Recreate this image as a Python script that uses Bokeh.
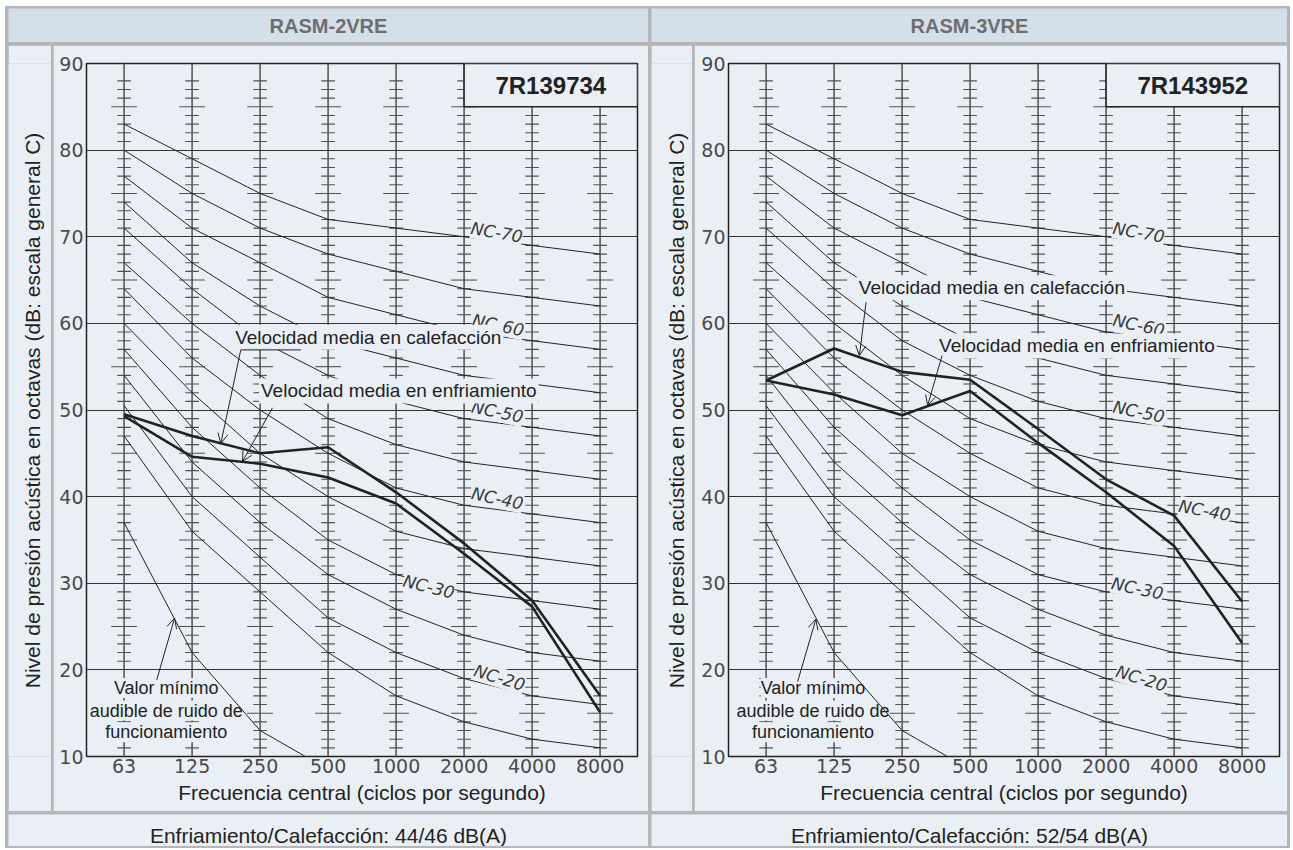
from bokeh.plotting import figure
from bokeh.models import Label, Arrow, OpenHead, FixedTicker
from bokeh.layouts import row, column
from bokeh.embed import file_html
from bokeh.resources import INLINE
from bokeh.core.properties import value

# ---------------- data ----------------
bands = ["63", "125", "250", "500", "1000", "2000", "4000", "8000"]
y_ticks = [10, 20, 30, 40, 50, 60, 70, 80, 90]

nc15 = [47, 36, 29, 22, 17, 14, 12, 11]
nc20 = [50.5, 40, 33, 26, 22, 19, 17, 16]
nc25 = [54, 44, 37, 31, 27, 24, 22, 21]
nc30 = [57, 48, 41, 35, 31, 29, 28, 27]
nc35 = [60, 52, 45, 40, 36, 34, 33, 32]
nc40 = [64, 56, 50, 45, 41, 39, 38, 37]
nc45 = [67, 60, 54, 49, 46, 44, 43, 42]
nc50 = [71, 64, 58, 54, 51, 49, 48, 47]
nc55 = [74, 67, 62, 58, 56, 54, 53, 52]
nc60 = [77, 71, 67, 63, 61, 59, 58, 57]
nc65 = [80, 75, 71, 68, 66, 64, 63, 62]
nc70 = [83, 79, 75, 72, 71, 70, 69, 68]
nc_curves = [nc15, nc20, nc25, nc30, nc35, nc40, nc45, nc50, nc55, nc60, nc65, nc70]

min_audible = [37, 22, 13, 8.5]          # 63 ... 500 Hz

heat_2vre = [49.5, 47.0, 45.0, 45.7, 40.5, 34.6, 28.0, 17.0]
cool_2vre = [49.3, 44.6, 43.8, 42.2, 39.2, 33.4, 27.3, 15.1]
heat_3vre = [53.4, 57.1, 54.4, 53.5, 47.8, 42.0, 37.8, 27.9]
cool_3vre = [53.4, 51.8, 49.4, 52.2, 46.2, 40.5, 34.3, 23.1]

models = ["RASM-2VRE", "RASM-3VRE"]
codes = ["7R139734", "7R143952"]
footers = ["Enfriamiento/Calefacción: 44/46 dB(A)",
           "Enfriamiento/Calefacción: 52/54 dB(A)"]
x_title = "Frecuencia central (ciclos por segundo)"
y_title = "Nivel de presión acústica en octavas (dB: escala general C)"
label_heat = "Velocidad media en calefacción"
label_cool = "Velocidad media en enfriamiento"
label_min = ["Valor mínimo", "audible de ruido de", "funcionamiento"]

# ---------------- styling / annotation layout ----------------
BG = "#eaeff5"
HEAD_BG = "#d5dfea"
RULE = "#b4b6b9"
INK = "#222222"
GRID_INK = "#505050"
BOX_FROM = 5          # reference box starts at the 2000 Hz line

ANN = [
    dict(nc=[("NC-70", 5.48, 70.5, -10), ("NC-60", 5.50, 59.8, -12), ("NC-50", 5.49, 49.8, -12),
             ("NC-40", 5.49, 39.8, -12), ("NC-30", 4.48, 29.6, -14), ("NC-20", 5.52, 19.1, -17)],
         heat_lab=(3.59, 58.4), cool_lab=(4.04, 52.2),
         heat_arrow=(1.716, 56.94, 1.422, 46.13), cool_arrow=(2.182, 50.25, 1.741, 44.06),
         landing=(1.716, 2.6, 56.94),
         min_x=0.62, min_arrow=(0.48, 18.85, 0.742, 25.96)),
    dict(nc=[("NC-70", 5.48, 70.5, -10), ("NC-60", 5.48, 59.8, -12), ("NC-50", 5.48, 49.8, -12),
             ("NC-40", 6.45, 38.4, -11), ("NC-30", 5.46, 29.4, -12), ("NC-20", 5.52, 19.0, -17)],
         heat_lab=(3.32, 64.1), cool_lab=(4.57, 57.4),
         heat_arrow=(1.47, 62.43, 1.372, 56.29), cool_arrow=(2.588, 56.29, 2.376, 50.52),
         landing=None,
         min_x=0.69, min_arrow=(0.464, 18.65, 0.732, 25.85)),
]

HEAD_H = 34
CONTENT_H = 766
FOOT_H = 32


def blank_fig(w, h, fill):
    p = figure(width=w, height=h, x_range=(0, w), y_range=(0, h), min_border=0,
               toolbar_location=None, output_backend="svg",
               x_axis_location=None, y_axis_location=None,
               background_fill_color=fill, border_fill_color=fill,
               outline_line_color=None)
    p.grid.visible = False
    return p


def header_fig(w, text):
    p = blank_fig(w, HEAD_H, HEAD_BG)
    p.add_layout(Label(x=w / 2, y=HEAD_H / 2, text=text, text_align="center",
                       text_baseline="middle", text_font="Liberation Sans",
                       text_font_style="bold", text_font_size="20px", text_color="#6e6e6e"))
    return p


def footer_fig(w, text):
    p = blank_fig(w, FOOT_H, BG)
    p.add_layout(Label(x=w / 2, y=11.5, text=text, text_align="center", text_baseline="middle",
                       text_font="Liberation Sans", text_font_size="21px", text_color=INK))
    return p


def ylab_fig(w, xc):
    p = blank_fig(w, CONTENT_H, BG)
    p.add_layout(Label(x=xc, y=382.5, text=y_title, angle=90, angle_units="deg",
                       text_align="center", text_baseline="middle",
                       text_font="Liberation Sans", text_font_size="21px", text_color=INK))
    return p


def main_fig(w, mbl, mbr, heat, cool, code, ann):
    n = len(bands)
    idx = list(range(n))
    p = figure(width=w, height=CONTENT_H, x_range=(-0.553, 7.55), y_range=(10, 90),
               min_border_left=mbl, min_border_right=mbr, min_border_top=18, min_border_bottom=55,
               toolbar_location=None, output_backend="svg",
               background_fill_color=BG, border_fill_color=BG,
               outline_line_color=INK, outline_line_width=1.5)
    p.xaxis.ticker = FixedTicker(ticks=idx)
    p.xaxis.major_label_overrides = {i: b for i, b in enumerate(bands)}
    p.yaxis.ticker = FixedTicker(ticks=y_ticks)
    for ax in (p.xaxis, p.yaxis):
        ax.axis_line_color = None
        ax.major_tick_line_color = None
        ax.minor_tick_line_color = None
        ax.major_tick_out = 0
        ax.major_tick_in = 0
        ax.major_label_text_font = "DejaVu Sans"
        ax.major_label_text_font_size = "19px"
        ax.major_label_text_color = "#4a4a4a"
        ax.major_label_standoff = 3
    p.xaxis.major_label_standoff = 2
    p.xaxis.axis_label = x_title
    p.xaxis.axis_label_text_font = "Liberation Sans"
    p.xaxis.axis_label_text_font_size = "21px"
    p.xaxis.axis_label_text_font_style = "normal"
    p.xaxis.axis_label_text_color = INK
    p.xaxis.axis_label_standoff = 5

    p.xgrid.visible = False
    p.ygrid.ticker = FixedTicker(ticks=y_ticks[1:-1])
    p.ygrid.grid_line_color = "#333333"
    p.ygrid.grid_line_width = 1

    # octave band rulers with 1 dB ticks
    y_lo, y_hi = y_ticks[0], y_ticks[-1]
    box_bottom = y_hi - 5
    tops = [y_hi if i <= BOX_FROM else box_bottom for i in idx]
    p.segment(x0=idx, y0=[y_lo] * n, x1=idx, y1=tops, line_color=GRID_INK, line_width=1.5)
    tx0, tx1, ty = [], [], []
    for i in idx:
        for k in range(y_lo + 1, y_hi - 1):
            if k % 10 == 0 or k >= tops[i]:
                continue
            h = 0.19 if k % 5 == 0 else 0.1
            tx0.append(i - h)
            tx1.append(i + h)
            ty.append(k)
    p.segment(x0=tx0, y0=ty, x1=tx1, y1=ty, line_color=GRID_INK, line_width=1.1)

    # code box
    xr_end = p.x_range.end
    p.quad(left=[BOX_FROM], right=[xr_end], bottom=[box_bottom], top=[y_hi],
           fill_color=BG, line_color=INK, line_width=1.5)

    # minimum audible text (covers rulers, curve drawn above)
    p.text(x=[ann["min_x"]] * 3, y=[17.9, 15.3, 12.8], text=label_min,
           text_font=value("Liberation Sans"), text_font_size="18px", text_color=INK,
           text_align="center", text_baseline="middle", background_fill_color=BG)

    # NC curves
    p.multi_line(xs=[idx] * len(nc_curves), ys=nc_curves, line_color=INK, line_width=1)
    p.line(idx[:len(min_audible)], min_audible, line_color=INK, line_width=1)

    # measured spectra
    p.line(idx, heat, line_color=INK, line_width=2.6)
    p.line(idx, cool, line_color=INK, line_width=2.6)

    # NC labels
    for t, x, y, a in ann["nc"]:
        p.add_layout(Label(x=x, y=y, text=t, angle=a, angle_units="deg",
                           text_align="center", text_baseline="middle",
                           text_font="DejaVu Sans", text_font_style="italic",
                           text_font_size="17px", text_color="#3a3a3a",
                           background_fill_color=BG))

    # velocity labels
    for (x, y), t in ((ann["heat_lab"], label_heat), (ann["cool_lab"], label_cool)):
        p.add_layout(Label(x=x, y=y, text=t, text_align="center", text_baseline="middle",
                           text_font="Liberation Sans", text_font_size="19px",
                           text_color=INK, background_fill_color=BG, padding=2))

    p.add_layout(Label(x=(BOX_FROM + xr_end) / 2, y=(box_bottom + y_hi) / 2, text=code,
                       text_align="center", text_baseline="middle",
                       text_font="Liberation Sans", text_font_style="bold",
                       text_font_size="24px", text_color=INK))

    for key in ("heat_arrow", "cool_arrow", "min_arrow"):
        x0, y0, x1, y1 = ann[key]
        p.add_layout(Arrow(x_start=x0, y_start=y0, x_end=x1, y_end=y1,
                           end=OpenHead(size=10, line_color=INK, line_width=1),
                           line_color=INK, line_width=1))
    if ann["landing"] is not None:
        xa, xb, yl = ann["landing"]
        p.add_layout(Arrow(x_start=xa, y_start=yl, x_end=xb, y_end=yl, end=None,
                           line_color=INK, line_width=1))
    return p


LEFT_W, RIGHT_W = 640, 636

main_L = main_fig(595, 33, 11, heat_2vre, cool_2vre, codes[0], ANN[0])
main_R = main_fig(593, 34, 8, heat_3vre, cool_3vre, codes[1], ANN[1])

headers = row(header_fig(LEFT_W, models[0]), header_fig(RIGHT_W, models[1]), spacing=3)
content = row(row(ylab_fig(43, 24), main_L, spacing=2),
              row(ylab_fig(41, 25), main_R, spacing=2), spacing=3)
foots = row(footer_fig(LEFT_W, footers[0]), footer_fig(RIGHT_W, footers[1]), spacing=3)

layout = column(headers, content, foots, spacing=3,
                styles={"background-color": RULE, "padding": "2px 3px 2px 3px",
                        "margin-left": "5px", "margin-top": "6px"})

open("out.html", "w").write(file_html(layout, INLINE))
